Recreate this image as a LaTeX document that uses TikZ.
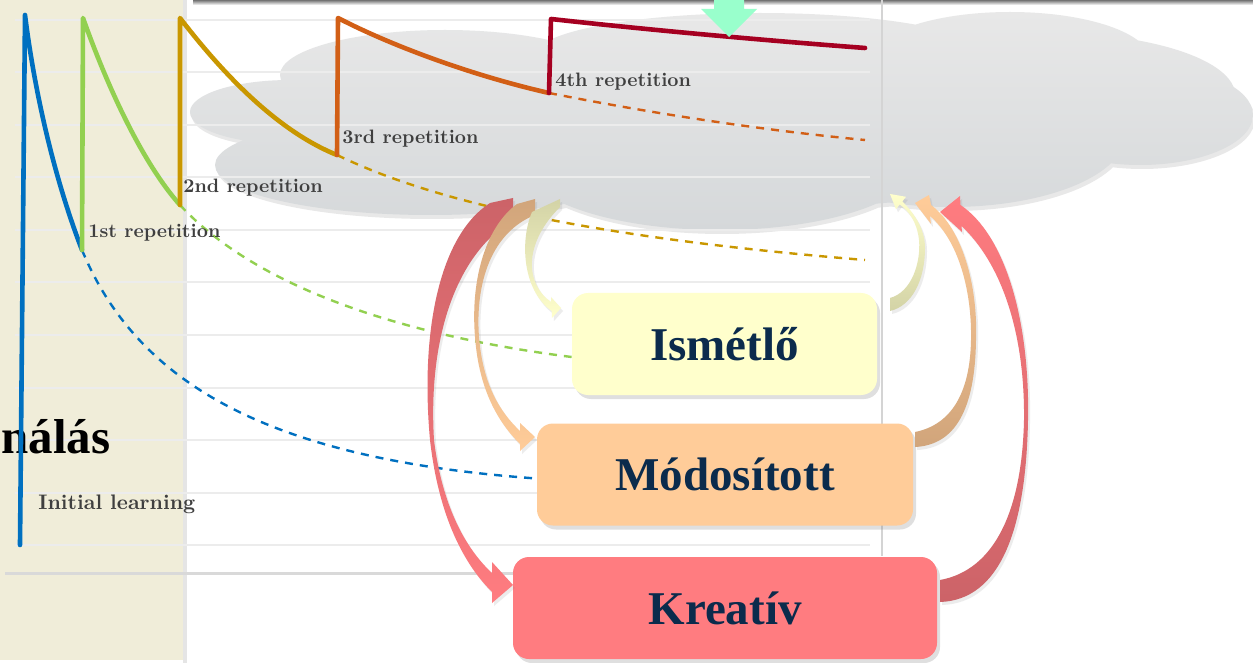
\documentclass[tikz,border=0pt]{standalone}
\usepackage{fontspec}
\newfontfamily\garfont{Liberation Serif}
\usetikzlibrary{shadows}
\pgfdeclarelayer{fg}
\pgfsetlayers{main,fg}
\definecolor{panelbg}{HTML}{F0EDD9}
\definecolor{gridc}{HTML}{ECECEC}
\definecolor{cblue}{HTML}{0070C0}
\definecolor{cgreen}{HTML}{92D050}
\definecolor{cgold}{HTML}{C99700}
\definecolor{corange}{HTML}{D25F16}
\definecolor{cred}{HTML}{A50021}
\definecolor{mint}{HTML}{99FFCC}
\definecolor{navy}{HTML}{0B2B4C}
\definecolor{lblgray}{HTML}{3F3F3F}
\definecolor{boxy}{HTML}{FFFFCC}
\definecolor{boxp}{HTML}{FFCC99}
\definecolor{boxr}{HTML}{FF7C80}
\definecolor{darky}{HTML}{D3D3A6}
\definecolor{darkp}{HTML}{D1A57B}
\definecolor{darkr}{HTML}{CC6368}
\definecolor{cloudtop}{HTML}{E8E8E8}
\definecolor{cloudbot}{HTML}{D5D8DA}
\begin{document}
\begin{tikzpicture}[x=0.5pt,y=-0.5pt,
  curve/.style={line width=2.3pt,line join=round,line cap=round},
  dashline/.style={line width=1.2pt,dash pattern=on 4pt off 3.5pt},
  lbl/.style={font=\bfseries\fontsize{9.7}{11}\selectfont,text=lblgray,anchor=base west,inner sep=0pt},
  boxnode/.style={rounded corners=8pt,minimum height=51pt,inner sep=0pt,
    font=\garfont\bfseries\fontsize{23.5}{28}\selectfont,text=navy,
    drop shadow={opacity=0.25,shadow xshift=1.5pt,shadow yshift=-2pt}},
  gridline/.style={gridc,line width=1pt},
  ribbon/.style={drop shadow={opacity=0.15,shadow xshift=1pt,shadow yshift=-1.5pt}}
]
\path[use as bounding box] (0,0) rectangle (1253,663);
\clip (0,0) rectangle (1253,663);
\fill[white] (0,0) rectangle (1253,663);
% left panel
\fill[black,opacity=0.10] (183,0) rectangle (187,663);
\fill[panelbg] (0,0) rectangle (183,660);
% top bar
\shade[top color=black!55,bottom color=white] (193,0) rectangle (1253,5);
% cloud
\shade[top color=cloudtop,bottom color=cloudbot,
  drop shadow={opacity=0.18,shadow xshift=1pt,shadow yshift=-2pt}]
  (290,112) ellipse (100 and 32)
  (430,165) ellipse (215 and 50)
  (445,75) ellipse (165 and 45)
  (760,55) ellipse (225 and 42)
  (1010,60) ellipse (140 and 48)
  (1050,95) ellipse (185 and 62)
  (1140,115) ellipse (113 and 50)
  (950,135) ellipse (175 and 72)
  (720,160) ellipse (200 and 70)
  (720,130) ellipse (400 and 80);
% grid
\foreach \gy in {20,72.5,125,177.5,230,282.5,335,387.5,440,492.5,545}
  \draw[gridline] (15,\gy) -- (870,\gy);
\draw[line width=1pt,black!17] (882,0) -- (882,556);
\draw[line width=1.5pt,black!15] (5,573) -- (882,573);
% side title
\node[anchor=base west,inner sep=0pt,font=\garfont\bfseries\fontsize{24.5}{28}\selectfont] (title) at (1,453) {nálás};
% boxes (foreground)
\begin{pgfonlayer}{fg}
\node[boxnode,fill=boxy,minimum width=152.5pt] (ism) at (724.5,344) {Ismétlő};
\node[boxnode,fill=boxp,minimum width=188pt] (mod) at (725,474.5) {Módosított};
\node[boxnode,fill=boxr,minimum width=212pt] (kre) at (725,608) {Kreatív};
% ribbons cloud -> boxes
\shade[ribbon,top color=darkr,bottom color=boxr] (490,203) .. controls (440,235) and (420,330) .. (430,440) .. controls (438,510) and (460,560) .. (492,592) -- (492,603) -- (513,585) -- (492,562) -- (492,573) .. controls (465,548) and (442,505) .. (434,440) .. controls (428,340) and (455,255) .. (513,220) -- (513,198) -- cycle;
\shade[ribbon,top color=darkp,bottom color=boxp] (517,204) .. controls (488,225) and (470,275) .. (475,337) .. controls (479,390) and (498,422) .. (520,444) -- (520,451) -- (535,437) -- (520,423) -- (520,431) .. controls (500,412) and (483,385) .. (479,337) .. controls (475,282) and (492,232) .. (535,215) -- (535,199) -- cycle;
\shade[ribbon,top color=darky,bottom color=boxy] (532,212) .. controls (520,240) and (522,290) .. (551.7,311) -- (552,318) -- (561,308) -- (551,297) -- (551.2,302) .. controls (526,285) and (522,245) .. (560,207) -- (560,199) -- cycle;
% ribbons boxes -> cloud
\shade[ribbon,top color=boxy,bottom color=darky] (890,298) .. controls (912,292) and (921,262) .. (919,240) .. controls (917,222) and (909,211) .. (899.7,204.5) -- (896,209.2) -- (890,194) -- (906,196.8) -- (902.3,201.5) .. controls (913,212) and (925,228) .. (925,248) .. controls (925,280) and (912,306) .. (890,311) -- cycle;
\shade[ribbon,top color=boxp,bottom color=darkp] (915,432) .. controls (950,425) and (970,395) .. (971,340) .. controls (972,290) and (958,240) .. (930,216) -- (931,224) -- (915,203) -- (929,195) -- (931,205) .. controls (962,228) and (978,285) .. (976,340) .. controls (975,410) and (955,445) .. (915,447) -- cycle;
\shade[ribbon,top color=boxr,bottom color=darkr] (940,580) .. controls (995,570) and (1022,510) .. (1024,420) .. controls (1025,330) and (1000,262) .. (961.5,226) -- (962,232) -- (940,212) -- (960,196) -- (960.5,205) .. controls (1005,235) and (1030,320) .. (1028,420) .. controls (1026,530) and (1000,600) .. (940,602) -- cycle;
\end{pgfonlayer}
% curve points
\coordinate (b0) at (20,545);
\coordinate (b1) at (25,15);
\coordinate (r1) at (82,250);
\coordinate (g1) at (83,18);
\coordinate (r2) at (180,205);
\coordinate (y1) at (180,18);
\coordinate (r3) at (337,155);
\coordinate (o1) at (338,18);
\coordinate (r4) at (549,93);
\coordinate (d1) at (551,19);
\coordinate (dend) at (865,48);
\coordinate (yend) at (865,260);
\coordinate (oend) at (865,140);
% dashed continuations
\draw[dashline,cblue] (r1) .. controls (140,390) and (280,460) .. ([yshift=-2pt]mod.west);
\draw[dashline,cgreen] (r2) .. controls (240,270) and (360,330) .. ([yshift=-6.5pt]ism.west);
\draw[dashline,cgold] (r3) .. controls (420,195) and (560,235) .. (yend);
\draw[dashline,corange] (r4) .. controls (650,113) and (760,130) .. (oend);
% solid curves
\draw[curve,cblue] (b0) -- (b1) .. controls (35,95) and (55,180) .. (r1);
\draw[curve,cgreen] (r1) -- (g1) .. controls (105,80) and (140,160) .. (r2);
\draw[curve,cgold] (r2) -- (y1) .. controls (220,70) and (275,130) .. (r3);
\draw[curve,corange] (r3) -- (o1) .. controls (390,45) and (470,75) .. (r4);
\draw[curve,cred] (r4) -- (d1) .. controls (650,30) and (760,40) .. (dend);
% labels
\node[lbl,font=\bfseries\fontsize{10.5}{12}\selectfont] (l0) at (38,509) {Initial learning};
\node[lbl] (l1) at (88,238) {1st repetition};
\node[lbl] (l2) at (183,193) {2nd repetition};
\node[lbl] (l3) at (342,144) {3rd repetition};
\node[lbl] (l4) at (555,87) {4th repetition};
% mint arrow
\fill[mint] (714,0) -- (744,0) -- (744,9) -- (757,9) -- (729,37) -- (701,9) -- (714,9) -- cycle;
\end{tikzpicture}
\end{document}
